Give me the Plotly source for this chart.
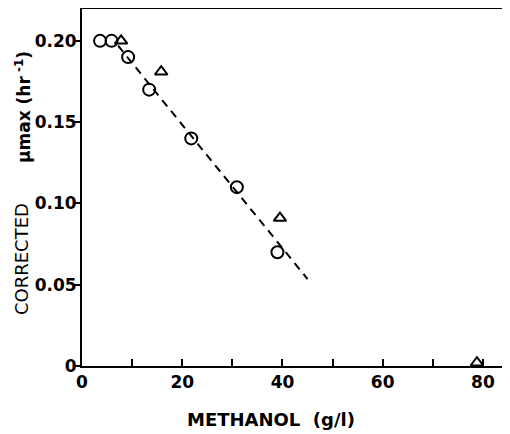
import plotly.graph_objects as go

# Data
circle_x = [3.6, 5.9, 9.2, 13.4, 21.8, 30.9, 39.0]
circle_y = [0.200, 0.200, 0.190, 0.170, 0.140, 0.110, 0.070]
tri_x = [7.8, 15.8, 39.5, 78.8]
tri_y = [0.200, 0.181, 0.091, 0.002]
fit_x = [7.2, 45.0]
fit_y = [0.197, 0.0535]

x_tickvals = [0, 20, 40, 60, 80]
y_tickvals = [0, 0.05, 0.10, 0.15, 0.20]
y_ticktext = ["0", "0.05", "0.10", "0.15", "0.20"]

FONT = "DejaVu Sans"
OFF = 8  # page body margin
W, H = 510 - OFF, 434 - OFF
ML, MR, MT, MB = 82 - OFF, 0, 9 - OFF, 68
Y_RANGE = [0, 0.2196]

ph = H - MT - MB
pw = W - ML - MR


def px_x(wx):
    return (wx - OFF - ML) / pw


def px_y(wy):
    return (H - MB - (wy - OFF)) / ph


fig = go.Figure()
fig.add_trace(go.Scatter(x=fit_x, y=fit_y, mode="lines",
                         line=dict(color="black", width=2, dash="8px,6px"),
                         showlegend=False, hoverinfo="skip"))
fig.add_trace(go.Scatter(x=circle_x, y=circle_y, mode="markers",
                         marker=dict(symbol="circle-open", size=12, color="black",
                                     line=dict(width=2, color="black")),
                         showlegend=False, cliponaxis=False))
fig.add_trace(go.Scatter(x=tri_x, y=tri_y, mode="markers",
                         marker=dict(symbol="triangle-up-open", size=11, color="black",
                                     line=dict(width=2, color="black")),
                         showlegend=False, cliponaxis=False))
# invisible trace to host the tick-mark axis
fig.add_trace(go.Scatter(x=[None], y=[None], yaxis="y2", showlegend=False, hoverinfo="skip"))

fig.update_layout(
    width=W, height=H,
    margin=dict(l=ML, r=MR, t=MT, b=MB),
    paper_bgcolor="white", plot_bgcolor="white",
    font=dict(family=FONT, color="black"),
    xaxis=dict(range=[0, 85.4], tickvals=x_tickvals, ticks="inside", ticklen=7,
               tickwidth=1.5, tickcolor="black", automargin=False,
               minor=dict(dtick=10, tick0=0, ticks="inside", ticklen=7, tickwidth=1.5,
                          tickcolor="black", showgrid=False),
               showline=True, linecolor="black", linewidth=2, mirror=True,
               showgrid=False, zeroline=False,
               tickfont=dict(family=FONT, size=17, color="black", weight="bold")),
    yaxis=dict(range=Y_RANGE, tickvals=y_tickvals, ticktext=y_ticktext,
               ticks="", automargin=False,
               showline=True, linecolor="black", linewidth=2, mirror=False,
               showgrid=False, zeroline=False,
               tickfont=dict(family=FONT, size=17, color="black", weight="bold")),
    yaxis2=dict(range=Y_RANGE, overlaying="y", side="left", tickvals=y_tickvals,
                ticks="outside", ticklen=6, tickwidth=2, tickcolor="black",
                showticklabels=False, showline=False, showgrid=False, zeroline=False,
                automargin=False),
    annotations=[
        dict(text="<b>METHANOL  (g/l)</b>", xref="paper", yref="paper",
             x=px_x(271), y=px_y(420), xanchor="center", yanchor="middle",
             showarrow=False, font=dict(family=FONT, size=18, color="black")),
        dict(text="CORRECTED", xref="paper", yref="paper",
             x=px_x(22), y=px_y(259), xanchor="center", yanchor="middle",
             textangle=-90, showarrow=False, font=dict(family=FONT, size=18, color="black")),
        dict(text="<b>\u03bcmax (hr<sup> -1</sup>)</b>", xref="paper", yref="paper",
             x=px_x(23), y=px_y(107), xanchor="center", yanchor="middle",
             textangle=-90, showarrow=False, font=dict(family=FONT, size=17, color="black")),
    ],
)

fig.write_html("out.html")
